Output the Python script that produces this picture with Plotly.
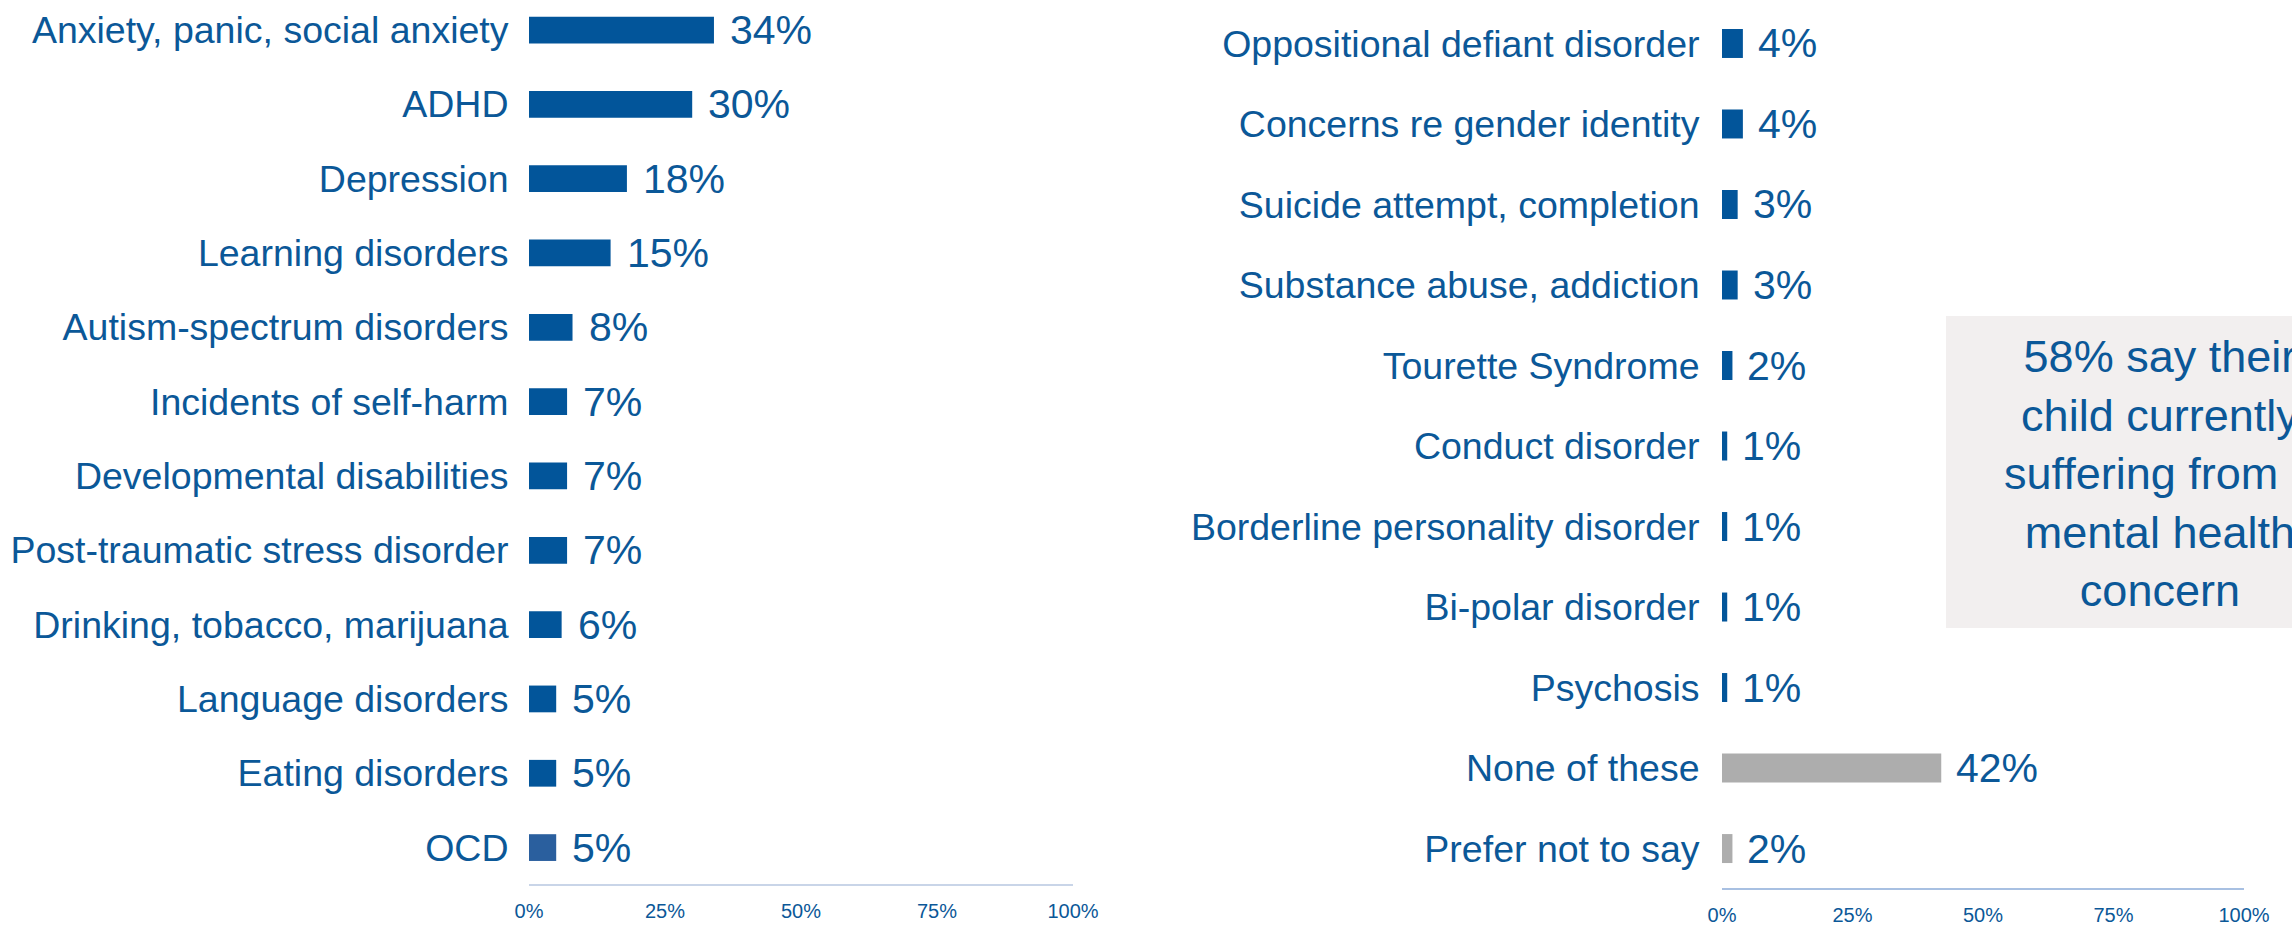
import plotly.graph_objects as go

# Left panel: conditions, share of parents reporting each
left_labels = [
    "Anxiety, panic, social anxiety", "ADHD", "Depression", "Learning disorders",
    "Autism-spectrum disorders", "Incidents of self-harm", "Developmental disabilities",
    "Post-traumatic stress disorder", "Drinking, tobacco, marijuana",
    "Language disorders", "Eating disorders", "OCD",
]
left_values = [34, 30, 18, 15, 8, 7, 7, 7, 6, 5, 5, 5]

# Right panel
right_labels = [
    "Oppositional defiant disorder", "Concerns re gender identity",
    "Suicide attempt, completion", "Substance abuse, addiction",
    "Tourette Syndrome", "Conduct disorder", "Borderline personality disorder",
    "Bi-polar disorder", "Psychosis", "None of these", "Prefer not to say",
]
right_values = [4, 4, 3, 3, 2, 1, 1, 1, 1, 42, 2]

x_ticks = [0, 25, 50, 75, 100]
x_tick_text = ["0%", "25%", "50%", "75%", "100%"]

callout_lines = ["58% say their", "child currently", "suffering from a",
                 "mental health", "concern"]

BLUE = "#02559A"
BLUE_LIGHT = "#2A5F9E"
GREY = "#ADADAD"
TEXT = "#0B5898"
FONT = "Liberation Sans, Arial, sans-serif"

W, H = 2292, 930

left_colors = [BLUE] * (len(left_values) - 1) + [BLUE_LIGHT]
right_colors = [BLUE] * (len(right_values) - 2) + [GREY, GREY]

fig = go.Figure()
fig.add_trace(go.Bar(
    x=left_values, y=left_labels, orientation="h",
    marker=dict(color=left_colors, line=dict(width=0)),
    width=0.36, xaxis="x", yaxis="y", hoverinfo="skip",
))
fig.add_trace(go.Bar(
    x=right_values, y=right_labels, orientation="h",
    marker=dict(color=right_colors, line=dict(width=0)),
    width=0.36, xaxis="x2", yaxis="y2", hoverinfo="skip",
))

annotations = []
for lab, v in zip(left_labels, left_values):
    annotations.append(dict(
        x=v, y=lab, xref="x", yref="y", text=f"{v}%", showarrow=False,
        xanchor="left", yanchor="middle", xshift=14,
        font=dict(family=FONT, size=41, color=TEXT),
    ))
for lab, v in zip(right_labels, right_values):
    annotations.append(dict(
        x=v, y=lab, xref="x2", yref="y2", text=f"{v}%", showarrow=False,
        xanchor="left", yanchor="middle", xshift=13,
        font=dict(family=FONT, size=41, color=TEXT),
    ))

# Callout box running off the right edge
box_x0, box_x1 = 1946 / W, 2390 / W
box_y0, box_y1 = 1 - 628 / H, 1 - 316 / H
annotations.append(dict(
    x=2160 / W, y=1 - 474 / H, xref="paper", yref="paper",
    text="<br>".join(callout_lines), showarrow=False, align="center",
    xanchor="center", yanchor="middle",
    font=dict(family=FONT, size=45, color=TEXT),
))

axis_common = dict(
    range=[0, 100], tickvals=x_ticks, ticktext=x_tick_text, automargin=False,
    showgrid=False, zeroline=False, showline=True, linewidth=2,
    ticks="outside", ticklen=8, tickcolor="rgba(0,0,0,0)",
    tickfont=dict(family=FONT, size=20, color=TEXT), fixedrange=True,
)
yaxis_common = dict(
    type="category", showgrid=False, zeroline=False, showline=False,
    automargin=False, ticks="outside", tickcolor="rgba(0,0,0,0)",
    tickfont=dict(family=FONT, size=37.5, color=TEXT), fixedrange=True,
)

fig.update_layout(
    width=W, height=H,
    margin=dict(l=0, r=0, t=0, b=0),
    paper_bgcolor="white", plot_bgcolor="white",
    showlegend=False, barmode="overlay",
    xaxis=dict(domain=[529 / W, 1073 / W], anchor="y", linecolor="#C9D5E8",
               **axis_common),
    yaxis=dict(domain=[1 - 884 / H, 1], anchor="x", range=[11.49, -0.404],
               ticklen=12, **yaxis_common),
    xaxis2=dict(domain=[1722 / W, 2244 / W], anchor="y2", linecolor="#A8C0E2",
                **axis_common),
    yaxis2=dict(domain=[1 - 888 / H, 1], anchor="x2", range=[10.49, -0.54],
                ticklen=14, **yaxis_common),
    shapes=[dict(type="rect", xref="paper", yref="paper",
                 x0=box_x0, x1=box_x1, y0=box_y0, y1=box_y1,
                 fillcolor="#F2EFEF", line=dict(width=0), layer="below")],
    annotations=annotations,
)

fig.write_html("out.html", config={"displayModeBar": False})
